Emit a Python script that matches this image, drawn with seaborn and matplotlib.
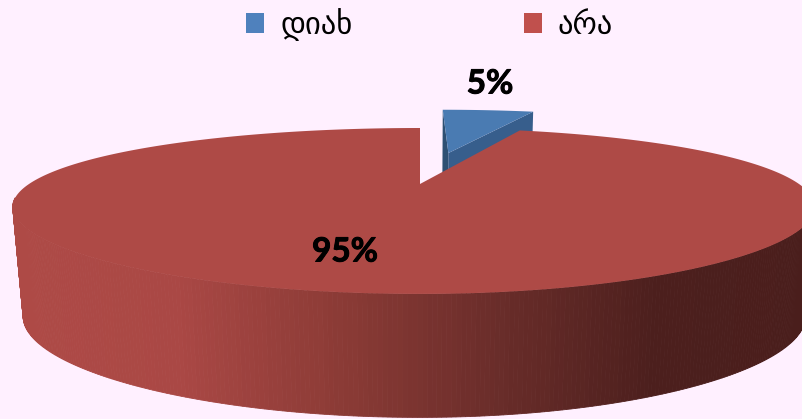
import numpy as np
import matplotlib.pyplot as plt
import matplotlib.patheffects as pe
from matplotlib.patches import Patch
import seaborn as sns

categories = ["დიახ", "არა"]
shares = [5.4, 94.6]
legend_colors = ["#4F81BD", "#C0504D"]

sns.set_theme(style="white")
plt.rcParams["font.family"] = ["DejaVu Sans"]

bg = "#FFF0FF"
fig, ax = plt.subplots(figsize=(8.03, 4.19), dpi=100, facecolor=bg)
ax.set_position([0, 0, 1, 1])
ax.set_xlim(0, 803)
ax.set_ylim(419, 0)
ax.axis("off")


def top_plane(u, v):
    # perspective view of the unit circle, top of the pie
    a = np.where(np.asarray(u) < 0, 391, 379)
    return 420 + a * u / (1 + 0.28 * v), 184 - 74.2 * v / (1 + 0.325 * v)


def bottom_plane(u, v):
    a = np.where(np.asarray(u) < 0, 381, 370)
    return 420 + a * u / (1 + 0.28 * v), 290 - 86 * v / (1 + 0.325 * v)


def rim(t):
    return np.sin(t), np.cos(t)


# slice angles, clockwise from 12 o'clock
cut = 2 * np.pi * shares[0] / sum(shares)
blue_u, blue_v = 0.085, 0.483   # exploded slice

# blue slice: cut faces first, red covers the lower part
tb = np.linspace(0, cut, 30)
u, v = rim(tb)
x_top, y_top = top_plane(u + blue_u, v + blue_v)
ax_apex, ay_apex = top_plane(np.array(blue_u), np.array(blue_v))
bx_apex, by_apex = bottom_plane(np.array(blue_u), np.array(blue_v))
bx_edge, by_edge = bottom_plane(u + blue_u, v + blue_v)

ax.fill([x_top[-1], ax_apex, bx_apex, bx_edge[-1]], [y_top[-1], ay_apex, by_apex, by_edge[-1]],
        color="#375E8C", lw=0, zorder=1)
ax.fill([x_top[0], ax_apex, bx_apex, bx_edge[0]], [y_top[0], ay_apex, by_apex, by_edge[0]],
        color="#2E5073", lw=0, zorder=1)
ax.fill(np.r_[ax_apex, x_top], np.r_[ay_apex, y_top], color="#4A7BB2", lw=0, zorder=2)

# red side wall, shaded strip by strip
shade = sns.blend_palette(["#AE4A46", "#AA4845", "#8C3B36", "#6A2D2A", "#4C1F1D", "#4A1E1C"], n_colors=120)
ts = np.linspace(np.radians(100), np.radians(260), 300)
u, v = rim(ts)
xt, yt = top_plane(u, v)
xb, yb = bottom_plane(u, v)
for i in range(len(ts) - 1):
    pos = int(np.clip((xb[i] - 20) / 790 * 119, 0, 119))
    ax.fill([xt[i], xt[i + 1], xb[i + 1], xb[i]], [yt[i], yt[i + 1], yb[i + 1], yb[i]],
            color=shade[pos], lw=0.6, zorder=3)

# red top face
tr = np.linspace(cut, 2 * np.pi, 400)
u, v = rim(tr)
xr, yr = top_plane(u, v)
ax.fill(np.r_[420, xr], np.r_[184, yr], color="#AE4A46", lw=0, zorder=4)

# value labels
labels = [f"{s:.0f}%" for s in shares]
heavy = [pe.withStroke(linewidth=0.7, foreground="black")]
ax.text(490, 84, labels[0], ha="center", va="center", fontsize=24, fontweight="bold",
        family="Lato", color="black", zorder=5, path_effects=heavy)
ax.text(345, 252, labels[1], ha="center", va="center", fontsize=24, fontweight="bold",
        family="Lato", color="black", zorder=5, path_effects=heavy)

handles = [Patch(facecolor=c, edgecolor="none") for c in legend_colors]
fig.legend(handles, categories, loc="upper center", ncol=2, frameon=False, fontsize=22,
           bbox_to_anchor=(0.535, 1.047), handlelength=0.59, handleheight=0.59,
           handletextpad=0.52, columnspacing=5.6, labelcolor="black")

fig.savefig("out.png", dpi=100, facecolor=bg)
